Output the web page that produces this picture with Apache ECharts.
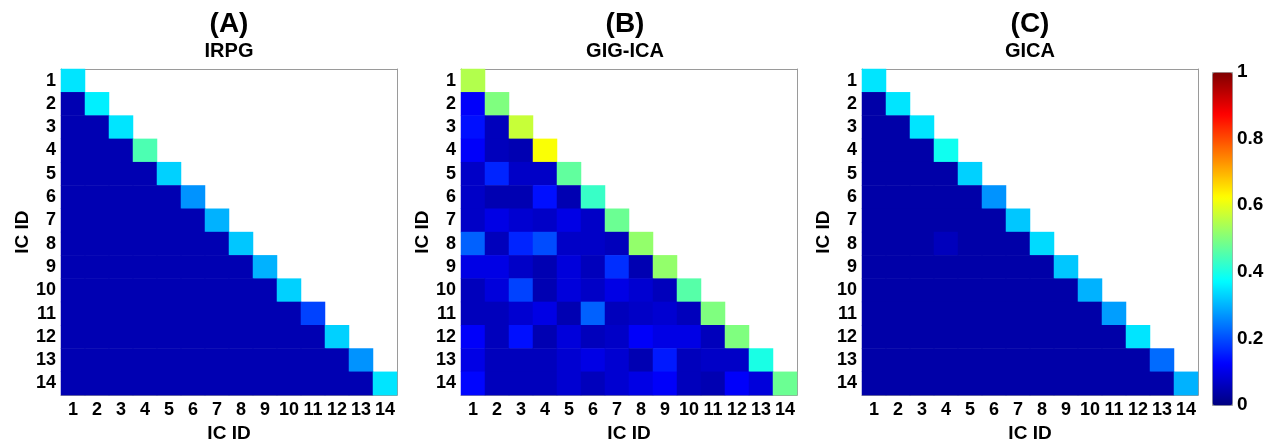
<!DOCTYPE html>
<html>
<head>
<meta charset="utf-8">
<script src="https://cdn.jsdelivr.net/npm/echarts@6/dist/echarts.min.js"></script>
<style>
  html, body { margin: 0; padding: 0; background: #fff; }
  #main { width: 1271px; height: 448px; }
</style>
</head>
<body>
<div id="main"></div>
<script>
var icIds = ['1', '2', '3', '4', '5', '6', '7', '8', '9', '10', '11', '12', '13', '14'];
var panelLetters = ['(A)', '(B)', '(C)'];
var methodNames = ['IRPG', 'GIG-ICA', 'GICA'];
var colorTicks = [0, 0.2, 0.4, 0.6, 0.8, 1];

// lower triangle, row i holds IC i against IC 1..i
var irpgRows = [
  [0.35],
  [0.05, 0.36],
  [0.05, 0.05, 0.35],
  [0.05, 0.05, 0.05, 0.45],
  [0.05, 0.05, 0.05, 0.05, 0.33],
  [0.05, 0.05, 0.05, 0.05, 0.05, 0.27],
  [0.05, 0.05, 0.05, 0.05, 0.05, 0.05, 0.30],
  [0.05, 0.05, 0.05, 0.05, 0.05, 0.05, 0.05, 0.32],
  [0.05, 0.05, 0.05, 0.05, 0.05, 0.05, 0.05, 0.05, 0.30],
  [0.05, 0.05, 0.05, 0.05, 0.05, 0.05, 0.05, 0.05, 0.05, 0.33],
  [0.05, 0.05, 0.05, 0.05, 0.05, 0.05, 0.05, 0.05, 0.05, 0.05, 0.19],
  [0.05, 0.05, 0.05, 0.05, 0.05, 0.05, 0.05, 0.05, 0.05, 0.05, 0.05, 0.33],
  [0.05, 0.05, 0.05, 0.05, 0.05, 0.05, 0.05, 0.05, 0.05, 0.05, 0.05, 0.05, 0.27],
  [0.05, 0.05, 0.05, 0.05, 0.05, 0.05, 0.05, 0.05, 0.05, 0.05, 0.05, 0.05, 0.05, 0.35]
];

var gigicaRows = [
  [0.55],
  [0.12, 0.50],
  [0.14, 0.06, 0.57],
  [0.12, 0.06, 0.05, 0.62],
  [0.07, 0.16, 0.07, 0.07, 0.47],
  [0.07, 0.05, 0.05, 0.14, 0.05, 0.43],
  [0.07, 0.10, 0.08, 0.07, 0.10, 0.07, 0.48],
  [0.22, 0.06, 0.16, 0.20, 0.07, 0.07, 0.06, 0.52],
  [0.10, 0.10, 0.07, 0.05, 0.09, 0.06, 0.17, 0.05, 0.52],
  [0.06, 0.09, 0.19, 0.05, 0.09, 0.07, 0.10, 0.08, 0.06, 0.46],
  [0.06, 0.06, 0.08, 0.10, 0.05, 0.22, 0.06, 0.07, 0.08, 0.06, 0.50],
  [0.12, 0.06, 0.14, 0.05, 0.09, 0.06, 0.07, 0.12, 0.10, 0.10, 0.06, 0.50],
  [0.10, 0.06, 0.06, 0.06, 0.08, 0.10, 0.08, 0.05, 0.15, 0.06, 0.07, 0.07, 0.40],
  [0.13, 0.06, 0.06, 0.06, 0.08, 0.06, 0.08, 0.10, 0.12, 0.06, 0.05, 0.12, 0.09, 0.48]
];

var gicaRows = [
  [0.35],
  [0.04, 0.35],
  [0.04, 0.04, 0.35],
  [0.04, 0.04, 0.04, 0.39],
  [0.04, 0.04, 0.04, 0.04, 0.33],
  [0.04, 0.04, 0.04, 0.04, 0.04, 0.27],
  [0.04, 0.04, 0.04, 0.04, 0.04, 0.04, 0.32],
  [0.04, 0.04, 0.04, 0.06, 0.04, 0.04, 0.04, 0.34],
  [0.04, 0.04, 0.04, 0.04, 0.04, 0.04, 0.04, 0.04, 0.32],
  [0.04, 0.04, 0.04, 0.04, 0.04, 0.04, 0.04, 0.04, 0.04, 0.30],
  [0.04, 0.04, 0.04, 0.04, 0.04, 0.04, 0.04, 0.04, 0.04, 0.04, 0.28],
  [0.04, 0.04, 0.04, 0.04, 0.04, 0.04, 0.04, 0.04, 0.04, 0.04, 0.04, 0.35],
  [0.04, 0.04, 0.04, 0.04, 0.04, 0.04, 0.04, 0.04, 0.04, 0.04, 0.04, 0.04, 0.23],
  [0.04, 0.04, 0.04, 0.04, 0.04, 0.04, 0.04, 0.04, 0.04, 0.04, 0.04, 0.04, 0.04, 0.30]
];

var jet = ['#00007f', '#0000ff', '#007fff', '#00ffff', '#7fff7f', '#ffff00', '#ff7f00', '#ff0000', '#7f0000'];
var font = 'Liberation Sans, Arial, sans-serif';
var frameColor = '#9a9a9a';

function toCells(rows) {
  var out = [];
  rows.forEach(function (row, i) {
    row.forEach(function (v, j) {
      out.push([j, i, v]);
    });
  });
  return out;
}

var panels = [irpgRows, gigicaRows, gicaRows];
var lefts = [61, 461, 862];
var centers = [229, 625, 1030];

var grid = [], xAxis = [], yAxis = [], series = [], title = [];

panels.forEach(function (rows, p) {
  grid.push({ left: lefts[p], top: 69, width: 336, height: 336 });

  title.push({
    text: panelLetters[p], left: centers[p], top: 10, textAlign: 'center', padding: 0,
    textStyle: { fontFamily: font, fontWeight: 'bold', fontSize: 28, color: '#000' }
  });
  title.push({
    text: methodNames[p], left: centers[p], top: 41, textAlign: 'center', padding: 0,
    textStyle: { fontFamily: font, fontWeight: 'bold', fontSize: 20, color: '#000' }
  });

  xAxis.push({
    type: 'category', data: icIds, gridIndex: p, position: 'bottom',
    name: 'IC ID', nameLocation: 'middle', nameGap: 23,
    nameTextStyle: { fontFamily: font, fontWeight: 'bold', fontSize: 19, color: '#000' },
    axisLine: { lineStyle: { color: frameColor } },
    axisTick: { inside: true, alignWithLabel: true, length: 4, lineStyle: { color: frameColor } },
    axisLabel: { interval: 0, margin: 6, fontFamily: font, fontWeight: 'bold', fontSize: 18, color: '#000' },
    splitLine: { show: false }
  });
  xAxis.push({
    type: 'category', data: icIds, gridIndex: p, position: 'top',
    axisLine: { lineStyle: { color: frameColor } },
    axisTick: { inside: true, alignWithLabel: true, length: 4, lineStyle: { color: frameColor } },
    axisLabel: { show: false },
    splitLine: { show: false }
  });
  yAxis.push({
    type: 'category', data: icIds, gridIndex: p, position: 'left', inverse: true,
    name: 'IC ID', nameLocation: 'middle', nameGap: 28,
    nameTextStyle: { fontFamily: font, fontWeight: 'bold', fontSize: 19, color: '#000' },
    axisLine: { lineStyle: { color: frameColor } },
    axisTick: { inside: true, alignWithLabel: true, length: 4, lineStyle: { color: frameColor } },
    axisLabel: { interval: 0, margin: 5, fontFamily: font, fontWeight: 'bold', fontSize: 18, color: '#000' },
    splitLine: { show: false }
  });
  yAxis.push({
    type: 'category', data: icIds, gridIndex: p, position: 'right', inverse: true,
    axisLine: { lineStyle: { color: frameColor } },
    axisTick: { inside: true, alignWithLabel: true, length: 4, lineStyle: { color: frameColor } },
    axisLabel: { show: false },
    splitLine: { show: false }
  });

  series.push({
    type: 'heatmap',
    xAxisIndex: p * 2,
    yAxisIndex: p * 2,
    data: toCells(rows),
    itemStyle: { borderWidth: 0 },
    emphasis: { disabled: true }
  });
});

// colour bar labels
grid.push({ left: 1212, top: 72, width: 20, height: 333 });
xAxis.push({ type: 'value', gridIndex: 3, show: false });
yAxis.push({
  type: 'value', gridIndex: 3, position: 'right', min: 0, max: 1, interval: 0.2,
  axisLine: { show: false },
  axisTick: { show: false },
  splitLine: { show: false },
  axisLabel: {
    margin: 5, fontFamily: font, fontWeight: 'bold', fontSize: 19, color: '#000',
    formatter: function (v) { return colorTicks.indexOf(Math.round(v * 10) / 10) >= 0 ? String(Math.round(v * 10) / 10) : ''; }
  }
});

var myChart = echarts.init(document.getElementById('main'));

var option = {
  backgroundColor: '#fff',
  animation: false,
  title: title,
  grid: grid,
  xAxis: xAxis,
  yAxis: yAxis,
  visualMap: {
    type: 'continuous',
    min: 0,
    max: 1,
    seriesIndex: [0, 1, 2],
    calculable: false,
    orient: 'vertical',
    left: 1212,
    top: 72,
    itemWidth: 20,
    itemHeight: 333,
    padding: 0,
    borderColor: frameColor,
    borderWidth: 1,
    text: null,
    showLabel: false,
    inRange: { color: jet }
  },
  series: series
};

myChart.setOption(option);
</script>
</body>
</html>
